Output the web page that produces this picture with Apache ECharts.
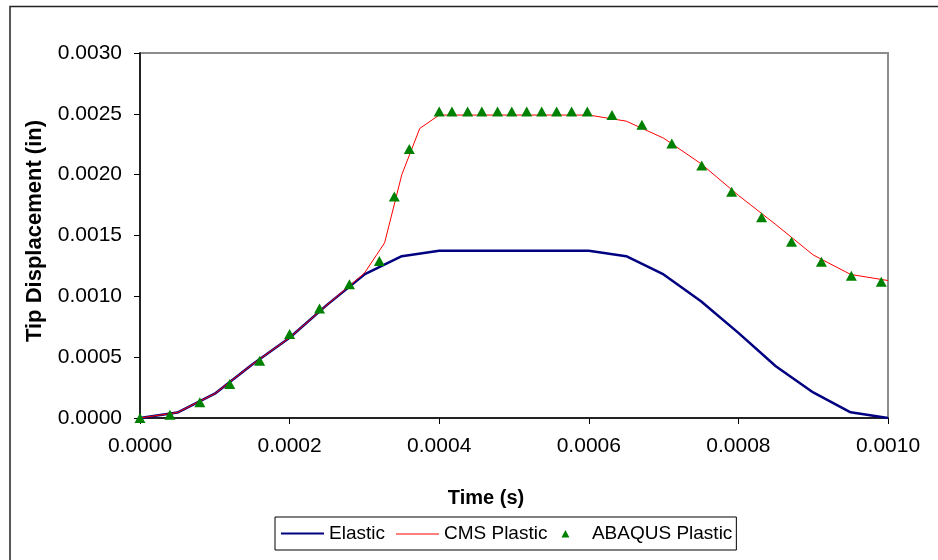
<!DOCTYPE html>
<html>
<head>
<meta charset="utf-8">
<script src="https://cdn.jsdelivr.net/npm/echarts@6/dist/echarts.min.js"></script>
<style>
  html, body { margin: 0; padding: 0; background: #fff; }
  #container { width: 938px; height: 560px; }
</style>
</head>
<body>
<div id="container"></div>
<script>
// Elastic response, [time, displacement]
var elasticTime = [0, 0.00005, 0.0001, 0.00015, 0.0002, 0.00025, 0.0003, 0.00035, 0.0004,
    0.00045, 0.0005, 0.00055, 0.0006, 0.00065, 0.0007, 0.00075, 0.0008, 0.00085, 0.0009, 0.00095, 0.001];
var elasticDisp = [0, 0.000045, 0.0002, 0.00044, 0.00066, 0.00093, 0.00118, 0.00133, 0.001375,
    0.001375, 0.001375, 0.001375, 0.001375, 0.00133, 0.00118, 0.00096, 0.0007, 0.000425, 0.00021, 0.000047, 0];

// CMS plastic
var cmsTime = [0, 0.00005, 0.0001, 0.00015, 0.0002, 0.00025, 0.0003, 0.000327, 0.00035, 0.000374, 0.0004,
    0.00045, 0.0005, 0.00055, 0.0006, 0.00065, 0.0007, 0.00075, 0.0008, 0.00085, 0.0009, 0.00095, 0.001];
var cmsDisp = [0, 0.000045, 0.0002, 0.00044, 0.00066, 0.00093, 0.00119, 0.00144, 0.002, 0.00238, 0.00249,
    0.00249, 0.00249, 0.00249, 0.00249, 0.00244, 0.0023, 0.00209, 0.00183, 0.00159, 0.00134, 0.00118, 0.00113];

// ABAQUS plastic (markers)
var abqTime = [0, 0.00004, 0.00008, 0.00012, 0.00016, 0.0002, 0.00024, 0.00028, 0.00032, 0.00034, 0.00036,
    0.0004, 0.000417, 0.000438, 0.000457, 0.000478, 0.000497, 0.000517, 0.000537, 0.000557, 0.000577, 0.000598,
    0.000631, 0.000671, 0.000711, 0.000751, 0.000791, 0.000831, 0.000871, 0.000911, 0.000951, 0.000991];
var abqDisp = [0, 0.000027, 0.00013, 0.00028, 0.00047, 0.00069, 0.0009, 0.0011, 0.00129, 0.00182, 0.00221,
    0.00252, 0.00252, 0.00252, 0.00252, 0.00252, 0.00252, 0.00252, 0.00252, 0.00252, 0.00252, 0.00252,
    0.00249, 0.00241, 0.002257, 0.002076, 0.001859, 0.00165, 0.001449, 0.001285, 0.00117, 0.00112];

var seriesNames = ['Elastic', 'CMS Plastic', 'ABAQUS Plastic'];
var xTicks = { min: 0, max: 0.001, interval: 0.0002 };
var yTicks = { min: 0, max: 0.003, interval: 0.0005 };

function pairs(t, v) {
    return t.map(function (x, i) { return [x, v[i]]; });
}

var font = 'Liberation Sans, Arial, sans-serif';
var myChart = echarts.init(document.getElementById('container'));

var option = {
    animation: false,
    backgroundColor: '#fff',
    textStyle: { fontFamily: font },
    grid: {
        left: 140, top: 53, right: 50, bottom: 142,
        show: true, borderColor: '#8c8c8c', borderWidth: 2, backgroundColor: '#fff'
    },
    graphic: [
        {
            type: 'rect', silent: true, z: -1,
            shape: { x: 10, y: 6.5, width: 1000, height: 700 },
            style: { fill: 'none', stroke: '#222', lineWidth: 1.5 }
        },
        {
            type: 'text', x: 486, y: 498,
            style: {
                text: 'Time (s)', fontFamily: font, fontSize: 20, fontWeight: 'bold',
                fill: '#000', align: 'center', verticalAlign: 'middle'
            }
        },
        {
            type: 'text', x: 35, y: 231, rotation: Math.PI / 2,
            style: {
                text: 'Tip Displacement (in)', fontFamily: font, fontSize: 22, fontWeight: 'bold',
                fill: '#000', align: 'center', verticalAlign: 'middle'
            }
        }
    ],
    legend: {
        data: [
            { name: seriesNames[0], icon: 'path://M0,0M43,14M0,6L43,6L43,8L0,8Z' },
            { name: seriesNames[1], icon: 'path://M0,0M43,14M0,7L43,7L43,8L0,8Z' },
            { name: seriesNames[2], icon: 'path://M0,0M14,14M3,11L11,11L7,3.5Z' }
        ],
        left: 275, top: 517,
        padding: [7, 4, 7, 6],
        itemWidth: 43, itemHeight: 14, itemGap: 11,
        borderColor: '#000', borderWidth: 1,
        textStyle: { fontFamily: font, fontSize: 19, color: '#000' }
    },
    xAxis: {
        type: 'value',
        min: xTicks.min, max: xTicks.max, interval: xTicks.interval,
        axisLine: { lineStyle: { color: '#000', width: 1.5 } },
        axisTick: { show: true, length: 6, lineStyle: { color: '#000' } },
        axisLabel: {
            margin: 18, fontSize: 21, color: '#000', fontFamily: font,
            formatter: function (v) { return v.toFixed(4); }
        },
        splitLine: { show: false }
    },
    yAxis: {
        type: 'value',
        min: yTicks.min, max: yTicks.max, interval: yTicks.interval,
        axisLine: { show: true, lineStyle: { color: '#000', width: 1.5 } },
        axisTick: { show: true, length: 6, lineStyle: { color: '#000' } },
        axisLabel: {
            margin: 18, fontSize: 21, color: '#000', fontFamily: font,
            formatter: function (v) { return v.toFixed(4); }
        },
        splitLine: { show: false }
    },
    series: [
        {
            name: seriesNames[0], type: 'line',
            data: pairs(elasticTime, elasticDisp),
            symbol: 'none', z: 2,
            lineStyle: { color: '#000080', width: 2.5 },
            itemStyle: { color: '#000080' }
        },
        {
            name: seriesNames[1], type: 'line',
            data: pairs(cmsTime, cmsDisp),
            symbol: 'none', z: 3,
            lineStyle: { color: '#ff0000', width: 1 },
            itemStyle: { color: '#ff0000' }
        },
        {
            name: seriesNames[2], type: 'scatter',
            data: pairs(abqTime, abqDisp),
            symbol: 'triangle', symbolSize: [11, 10], z: 4,
            itemStyle: { color: '#008000', opacity: 1 }
        }
    ]
};
myChart.setOption(option);
</script>
</body>
</html>
